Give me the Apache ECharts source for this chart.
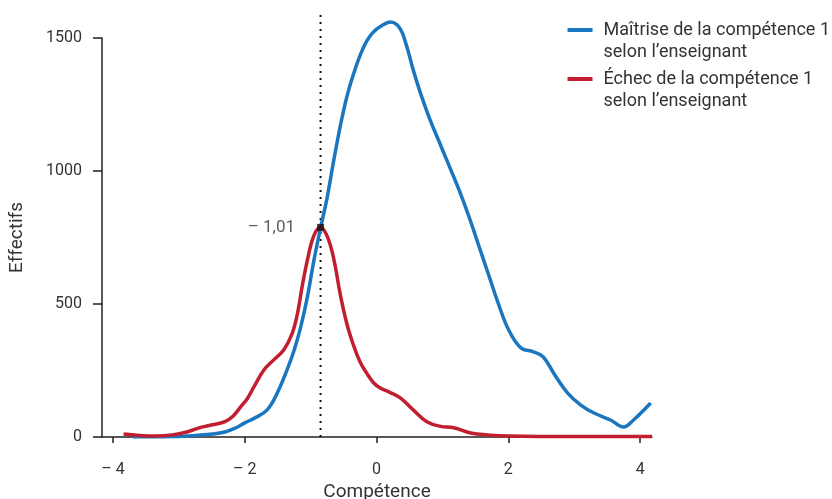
<!DOCTYPE html>
<html><head><meta charset="utf-8">
<script src="https://cdn.jsdelivr.net/npm/echarts@6/dist/echarts.min.js"></script>
<style>html,body{margin:0;padding:0;background:#fff}#c{width:832px;height:499px}</style>
</head><body><div id="c"></div>
<script>
const xTicks = [-4, -2, 0, 2, 4];
const yTicks = [0, 500, 1000, 1500];
const seriesNames = ["Maîtrise de la compétence 1\nselon l\u2019enseignant", "Échec de la compétence 1\nselon l\u2019enseignant"];
const blueX = [-3.7, -3.4, -3.1, -2.8, -2.5, -2.3, -2.15, -2.0, -1.86, -1.66, -1.51, -1.35, -1.25, -1.15, -1.05, -0.95, -0.85, -0.75, -0.65, -0.55, -0.45, -0.35, -0.25, -0.15, -0.05, 0.07, 0.21, 0.35, 0.45, 0.55, 0.65, 0.8, 0.95, 1.1, 1.25, 1.4, 1.55, 1.7, 1.85, 2.0, 2.19, 2.38, 2.53, 2.7, 2.9, 3.1, 3.3, 3.55, 3.75, 3.9, 4.05, 4.16];
const blueY = [1, 1, 2, 5, 11, 19, 33, 53, 70, 102, 164, 258, 327, 415, 527, 665, 786, 900, 1040, 1170, 1280, 1365, 1435, 1488, 1522, 1545, 1560, 1538, 1475, 1385, 1305, 1200, 1110, 1020, 930, 830, 720, 610, 500, 405, 335, 320, 301, 235, 165, 120, 90, 64, 38, 64, 100, 128];
const redX = [-3.84, -3.6, -3.35, -3.1, -2.88, -2.67, -2.47, -2.3, -2.18, -2.06, -1.96, -1.86, -1.71, -1.56, -1.41, -1.28, -1.2, -1.13, -1.05, -0.95, -0.85, -0.75, -0.65, -0.55, -0.45, -0.35, -0.25, -0.15, -0.05, 0.05, 0.2, 0.36, 0.56, 0.77, 0.97, 1.17, 1.43, 1.68, 2.0, 3.0, 4.18];
const redY = [11, 6, 4, 8, 19, 36, 47, 58, 78, 114, 145, 189, 252, 290, 327, 390, 465, 565, 665, 758, 788, 755, 670, 535, 425, 345, 282, 240, 205, 185, 168, 147, 101, 56, 40, 35, 15, 8, 4, 2, 2];
const cutX = -0.85;
const cutY = 788;
const cutLabel = "\u2013 1,01";
const cutTop = 1598;

const zip = (a, b) => a.map((v, i) => [v, b[i]]);
const fmt = v => v < 0 ? "\u2013 " + Math.abs(v) : String(v);
const font = "Roboto";
const txt = "#333";

const chart = echarts.init(document.getElementById('c'));
chart.setOption({
  animation: false,
  textStyle: { fontFamily: font },
  grid: { left: 102, right: 180, top: 38, bottom: 62, outerBoundsMode: 'none', containLabel: false },
  legend: {
    right: 2, top: -3, padding: 0, orient: 'vertical', itemWidth: 25, itemHeight: 4, itemGap: -17,
    icon: 'rect', align: 'left',
    data: [seriesNames[0], seriesNames[1]],
    formatter: n => ' \n' + n,
    textStyle: { fontFamily: font, fontSize: 18, color: txt, lineHeight: 22, padding: [0, 0, 0, 6] }
  },
  xAxis: {
    type: 'value', min: -4.167, max: 4.18,
    name: 'Compétence', nameLocation: 'middle', nameGap: 44,
    nameTextStyle: { fontSize: 19, color: txt, fontFamily: font },
    splitLine: { show: false },
    axisLine: { onZero: false, lineStyle: { color: '#222', width: 1.5 } },
    axisTick: { show: true, length: 6, lineStyle: { color: '#222', width: 1.5 }, customValues: xTicks },
    axisLabel: { customValues: xTicks, formatter: fmt, fontSize: 16, color: txt, margin: 25, fontFamily: font }
  },
  yAxis: {
    type: 'value', min: 0, max: 1500, interval: 500,
    name: 'Effectifs', nameLocation: 'middle', nameGap: 75, nameRotate: 90,
    nameTextStyle: { fontSize: 19, color: txt, fontFamily: font },
    splitLine: { show: false },
    axisLine: { show: true, onZero: false, lineStyle: { color: '#222', width: 1.5 } },
    axisTick: { show: true, length: 9, lineStyle: { color: '#222', width: 1.5 }, customValues: yTicks },
    axisLabel: { fontSize: 16, color: txt, margin: 20, fontFamily: font, formatter: v => String(v) }
  },
  series: [
    {
      name: 'cut', type: 'line', clip: false, silent: true, symbol: 'none',
      data: [[cutX, 0], [cutX, cutTop]],
      lineStyle: { color: '#111', width: 2, type: [2, 5] }, z: 1
    },
    {
      name: seriesNames[0], type: 'line', smooth: 0.4, symbol: 'none', clip: false,
      data: zip(blueX, blueY), color: '#1a76bf',
      lineStyle: { width: 3.5, color: '#1a76bf' }, z: 3
    },
    {
      name: seriesNames[1], type: 'line', smooth: 0.4, symbol: 'none', clip: false,
      data: zip(redX, redY), color: '#c21e2f',
      lineStyle: { width: 3.5, color: '#c21e2f' }, z: 4
    },
    {
      name: 'pt', type: 'scatter', symbol: 'rect', symbolSize: 7,
      data: [[cutX, cutY]], itemStyle: { color: '#111' }, z: 6,
      label: { show: true, position: 'left', distance: 22, formatter: cutLabel, fontSize: 17, color: txt, fontFamily: font }
    }
  ]
});
</script></body></html>
